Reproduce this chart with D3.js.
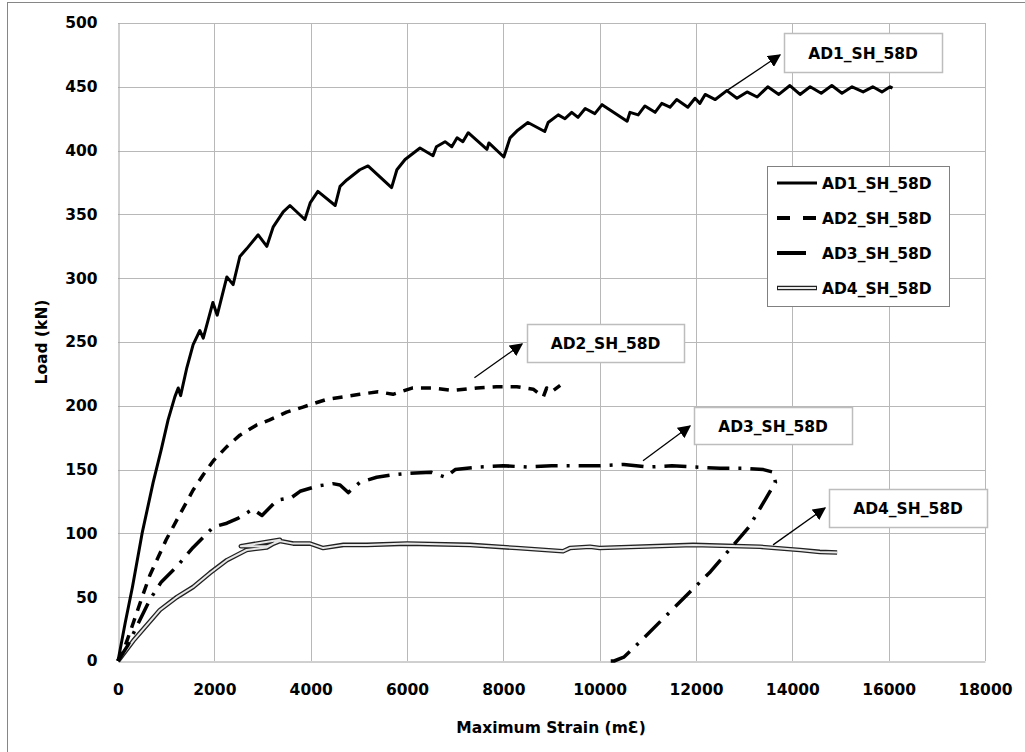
<!DOCTYPE html>
<html>
<head>
<meta charset="utf-8">
<script src="https://cdn.jsdelivr.net/npm/d3@7"></script>
<style>
  body { margin: 0; background: #fff; }
  svg text { font-family: "DejaVu Sans", sans-serif; font-weight: bold; fill: #000; }
</style>
</head>
<body>
<div id="chart"></div>
<script>
// series names
const seriesNames = ["AD1_SH_58D", "AD2_SH_58D", "AD3_SH_58D", "AD4_SH_58D"];

// axis ticks
const xTicks = [0, 2000, 4000, 6000, 8000, 10000, 12000, 14000, 16000, 18000];
const yTicks = [0, 50, 100, 150, 200, 250, 300, 350, 400, 450, 500];

// [strain, load]
const ad1 = [[0,0],[150,30],[300,58],[500,100],[730,140],[900,166],[1040,189],[1180,207],[1250,214],[1300,208],
  [1430,230],[1560,248],[1700,259],[1770,253],[1970,281],[2060,271],[2260,301],[2390,295],[2530,317],[2670,323],
  [2910,334],[3090,325],[3220,340],[3430,352],[3570,357],[3880,346],[3990,359],[4150,368],[4510,357],[4610,372],
  [4750,377],[5020,385],[5190,388],[5680,371],[5790,385],[5960,393],[6270,402],[6540,396],[6610,403],[6790,407],
  [6930,403],[7040,410],[7160,407],[7270,414],[7660,401],[7700,406],[8010,395],[8140,410],[8300,416],[8510,422],
  [8860,415],[8930,422],[9140,428],[9280,425],[9420,430],[9550,426],[9700,433],[9900,429],[10050,436],[10570,423],
  [10630,430],[10800,428],[10940,435],[11150,430],[11290,437],[11460,434],[11600,440],[11830,434],[11980,441],
  [12080,437],[12190,444],[12400,440],[12640,447],[12850,441],[13060,446],[13270,442],[13490,450],[13720,444],
  [13950,451],[14160,444],[14370,450],[14600,445],[14820,451],[15030,445],[15240,450],[15470,446],[15670,450],
  [15860,446],[16030,450],[16080,449]];

const ad2 = [[0,0],[150,12],[300,28],[500,50],[660,67],[1000,95],[1300,116],[1560,134],[1770,146],[1980,157],
  [2260,168],[2530,177],[2880,185],[3150,189],[3500,195],[3840,199],[4000,201],[4330,205],[4670,207],[5020,209],
  [5400,211],[5710,209],[6120,214],[6540,214],[6960,212],[7450,214],[7860,215],[8280,215],[8620,213],[8830,207],
  [8900,214],[9000,211],[9180,216]];

const ad3 = [[0,0],[200,12],[400,28],[660,48],[900,62],[1220,74],[1560,89],[1980,105],[2260,108],[2500,112],
  [2800,119],[2990,114],[3300,126],[3600,128],[3780,133],[4130,137],[4460,139],[4610,138],[4780,132],[5020,140],
  [5370,144],[5710,146],[6000,147],[6500,148],[6800,144],[7000,150],[7500,152],[8000,153],[8500,152],[9000,153],
  [9500,153],[10000,153],[10500,154],[11000,152],[11500,153],[12000,152],[12500,151],[13000,151],[13400,150],
  [13600,148],[13650,140],[13100,105],[12300,70],[11500,40],[10700,10],[10500,3],[10300,0],[10200,0]];

const ad4 = [[0,0],[320,16],[870,40],[1220,50],[1560,58],[1910,69],[2260,79],[2670,87],[3090,89],[3360,95],
  [2550,90],[3100,90],[3360,94],[3640,92],[3990,92],[4260,88.5],[4680,91],[5170,91],[6000,92],[7310,91],
  [8280,88.5],[9240,86],[9380,88.5],[9800,89.5],[10000,88.5],[11940,91],[13330,89.5],[14160,87],[14570,85.5],
  [14930,85]];

const W = 1025, H = 752;
const svg = d3.select("#chart").append("svg").attr("width", W).attr("height", H);

// chart frame
svg.append("rect").attr("x", 7.5).attr("y", 2.5).attr("width", 1040).attr("height", 800)
  .attr("fill", "#fff").attr("stroke", "#868686");

const x = d3.scaleLinear().domain([0, 18000]).range([118, 985]);
const y = d3.scaleLinear().domain([0, 500]).range([661, 23]);

// grid
const grid = svg.append("g");
grid.selectAll(".vg").data(xTicks.slice(1)).enter().append("line")
  .attr("x1", d => Math.round(x(d)) + 0.5).attr("x2", d => Math.round(x(d)) + 0.5)
  .attr("y1", y(500)).attr("y2", y(0))
  .attr("stroke", "#b8b8b8");
grid.selectAll(".hg").data(yTicks.slice(1)).enter().append("line")
  .attr("y1", d => Math.round(y(d)) + 0.5).attr("y2", d => Math.round(y(d)) + 0.5)
  .attr("x1", x(0)).attr("x2", x(18000))
  .attr("stroke", "#b8b8b8");

// axes
const xAxis = svg.append("g").attr("transform", "translate(0," + (Math.round(y(0)) + 0.5) + ")")
  .call(d3.axisBottom(x).tickValues(xTicks).tickSize(0).tickPadding(22).tickFormat(d3.format("d")));
const yAxis = svg.append("g").attr("transform", "translate(" + (Math.round(x(0)) + 0.5) + ",0)")
  .call(d3.axisLeft(y).tickValues(yTicks).tickSize(0).tickPadding(21).tickFormat(d3.format("d")));
[xAxis, yAxis].forEach(a => {
  a.select(".domain").attr("stroke", "#a0a0a0");
  a.selectAll("text").style("font-size", "15.5px").style("font-family", "DejaVu Sans").style("font-weight", "bold");
});
xAxis.selectAll("text").attr("dy", "0.71em");

svg.append("text").attr("x", 551).attr("y", 733).attr("text-anchor", "middle")
  .style("font-size", "15.5px").text("Maximum Strain (mƐ)");
svg.append("text").attr("transform", "translate(47,342) rotate(-90)").attr("text-anchor", "middle")
  .style("font-size", "15.5px").text("Load (kN)");

// curves
const line = d3.line().x(d => x(d[0])).y(d => y(d[1]));
const curves = svg.append("g").attr("fill", "none").attr("stroke-linejoin", "round");

curves.append("path").attr("d", line(ad4)).attr("stroke", "#222").attr("stroke-width", 4.6);
curves.append("path").attr("d", line(ad4)).attr("stroke", "#e8e8e8").attr("stroke-width", 2);

curves.append("path").attr("d", line(ad3)).attr("stroke", "#000").attr("stroke-width", 3.5)
  .attr("stroke-dasharray", "22,9,3,9");
curves.append("path").attr("d", line(ad2)).attr("stroke", "#000").attr("stroke-width", 3.5)
  .attr("stroke-dasharray", "10,8");
curves.append("path").attr("d", line(ad1)).attr("stroke", "#000").attr("stroke-width", 3);

// arrow head
svg.append("defs").append("marker").attr("id", "arr")
  .attr("viewBox", "0 0 10 10").attr("refX", 9).attr("refY", 5)
  .attr("markerWidth", 13).attr("markerHeight", 13).attr("markerUnits", "userSpaceOnUse")
  .attr("orient", "auto")
  .append("path").attr("d", "M0,0L10,5L0,10z").attr("fill", "#000");

// callouts: label box + arrow from the curve
const callouts = [
  { name: seriesNames[0], from: [12640, 447], box: [784, 33, 158, 39], tip: [780, 55] },
  { name: seriesNames[1], from: [7400, 222], box: [527, 324, 157, 38], tip: [522, 344] },
  { name: seriesNames[2], from: [10900, 157], box: [694, 407, 158, 37], tip: [690, 426] },
  { name: seriesNames[3], from: [13600, 91], box: [829, 489, 158, 38], tip: [825, 508] }
];
callouts.forEach(c => {
  svg.append("line").attr("x1", x(c.from[0])).attr("y1", y(c.from[1]))
    .attr("x2", c.tip[0]).attr("y2", c.tip[1])
    .attr("stroke", "#000").attr("stroke-width", 1.3).attr("marker-end", "url(#arr)");
  svg.append("rect").attr("x", c.box[0] + 0.5).attr("y", c.box[1] + 0.5)
    .attr("width", c.box[2]).attr("height", c.box[3])
    .attr("fill", "#fff").attr("stroke", "#bdbdbd").attr("stroke-width", 1.5);
  svg.append("text").attr("x", c.box[0] + c.box[2] / 2).attr("y", c.box[1] + c.box[3] / 2 + 6)
    .attr("text-anchor", "middle").style("font-size", "15.5px").text(c.name);
});

// legend
const legend = svg.append("g");
legend.append("rect").attr("x", 767.5).attr("y", 166.5).attr("width", 182).attr("height", 140)
  .attr("fill", "#fff").attr("stroke", "#808080");
seriesNames.forEach((n, i) => {
  const ly = 183 + i * 35;
  if (i === 3) {
    legend.append("line").attr("x1", 777).attr("x2", 817).attr("y1", ly).attr("y2", ly)
      .attr("stroke", "#222").attr("stroke-width", 4.6);
    legend.append("line").attr("x1", 778).attr("x2", 816).attr("y1", ly).attr("y2", ly)
      .attr("stroke", "#e8e8e8").attr("stroke-width", 2);
  } else {
    legend.append("line").attr("x1", 777).attr("x2", i === 2 ? 806 : 817).attr("y1", ly).attr("y2", ly)
      .attr("stroke", "#000").attr("stroke-width", i === 0 ? 3 : 4)
      .attr("stroke-dasharray", i === 1 ? "13,13" : null);
  }
  legend.append("text").attr("x", 822).attr("y", ly + 6).style("font-size", "15.5px").text(n);
});
</script>
</body>
</html>
